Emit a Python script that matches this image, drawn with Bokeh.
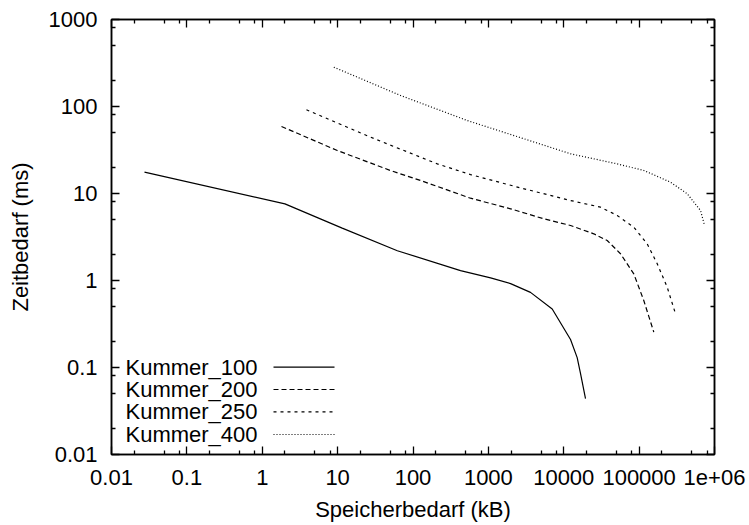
from bokeh.plotting import figure
from bokeh.models import FixedTicker, LogAxis, Label, Arrow, CustomJSTickFormatter, Range1d
from bokeh.embed import file_html
from bokeh.resources import INLINE

# ---- data ----
x_ticks = [0.01, 0.1, 1.0, 10.0, 100.0, 1000.0, 10000.0, 100000.0, 1000000.0]
x_tick_labels = ["0.01", "0.1", "1", "10", "100", "1000", "10000", "100000", "1e+06"]
y_ticks = [0.01, 0.1, 1.0, 10.0, 100.0, 1000.0]
y_tick_labels = ["0.01", "0.1", "1", "10", "100", "1000"]

series_names = ["Kummer_100", "Kummer_200", "Kummer_250", "Kummer_400"]

k100_x = [0.0274, 2.0, 11.5, 62, 427, 1070, 1970, 3620, 7030, 12300, 15070, 16700, 19440]
k100_y = [17.6, 7.6, 4.0, 2.2, 1.3, 1.07, 0.92, 0.73, 0.47, 0.21, 0.13, 0.085, 0.044]

k200_x = [1.8, 9.9, 50, 126, 579, 1970, 5435, 12300, 25050, 37700, 56600, 85000, 115300, 156600]
k200_y = [58.9, 31.2, 18.4, 14.1, 8.83, 6.67, 5.12, 4.29, 3.44, 2.88, 2.03, 1.19, 0.589, 0.255]

k250_x = [3.86, 27.3, 210, 579, 2670, 12300, 30750, 51200, 85000, 128000, 173800, 235700, 304000]
k250_y = [91.6, 44.4, 21.9, 16.5, 11.6, 8.31, 6.96, 5.59, 4.10, 2.64, 1.56, 0.838, 0.414]

k400_x = [8.9, 68.2, 524, 3275, 12300, 51200, 115300, 260600, 434500, 651800, 736600]
k400_y = [283, 134, 69, 41.4, 28.6, 21.9, 18.4, 13.5, 9.93, 6.38, 4.34]

series_x = [k100_x, k200_x, k250_x, k400_x]
series_y = [k100_y, k200_y, k250_y, k400_y]

# ---- style ----
FONT = "Liberation Sans"
FS = "22px"
dashes = ["solid", "5 3", "3 4", "1 2"]

x_minor = [m * d for d in x_ticks[:-1] for m in (2, 5, 8)]
y_minor = [m * d for d in y_ticks[:-1] for m in (2, 5, 8)]

p = figure(
    x_axis_type="log", y_axis_type="log",
    x_range=Range1d(x_ticks[0], x_ticks[-1]),
    y_range=Range1d(y_ticks[0], y_ticks[-1]),
    frame_width=603, frame_height=435,
    min_border_left=111, min_border_right=35,
    min_border_top=19, min_border_bottom=70,
    output_backend="svg", toolbar_location=None,
    x_axis_label="Speicherbedarf (kB)", y_axis_label="Zeitbedarf (ms)",
)
p.xgrid.visible = False
p.ygrid.visible = False
p.outline_line_color = "black"
p.outline_line_width = 1.5
p.background_fill_color = "white"
p.border_fill_color = "white"


def style_axis(ax, ticks, minor, labels=None):
    ax.ticker = FixedTicker(ticks=ticks, minor_ticks=minor)
    ax.axis_line_color = "black"
    ax.axis_line_width = 1.5
    ax.major_tick_in = 8
    ax.major_tick_out = 0
    ax.minor_tick_in = 4
    ax.minor_tick_out = 0
    ax.major_tick_line_width = 1.3
    ax.minor_tick_line_width = 1.3
    ax.major_tick_line_color = "black"
    ax.minor_tick_line_color = "black"
    ax.major_label_text_font = FONT
    ax.major_label_text_font_size = FS
    ax.major_label_text_color = "black"
    ax.axis_label_text_font = FONT
    ax.axis_label_text_font_size = FS
    ax.axis_label_text_font_style = "normal"
    ax.axis_label_text_color = "black"
    if labels is not None:
        ax.major_label_overrides = {t: l for t, l in zip(ticks, labels)}
    else:
        ax.formatter = CustomJSTickFormatter(code="return ''")
        ax.major_label_text_font_size = "1px"
        ax.major_label_standoff = 0


xa = p.xaxis[0]
ya = p.yaxis[0]
style_axis(xa, x_ticks, x_minor, x_tick_labels)
style_axis(ya, y_ticks, y_minor, y_tick_labels)
xa.major_label_standoff = 15
xa.axis_label_standoff = 9
ya.major_label_standoff = 14
ya.axis_label_standoff = 13

top = LogAxis()
right = LogAxis()
style_axis(top, x_ticks, x_minor)
style_axis(right, y_ticks, y_minor)
p.add_layout(top, "above")
p.add_layout(right, "right")

for xs, ys, d in zip(series_x, series_y, dashes):
    p.line(xs, ys, line_color="black", line_width=1.2, line_dash=d)

# key (gnuplot style: text then sample)
row_y = [87.3, 65.0, 42.7, 20.0]
for name, yy, d in zip(series_names, row_y, dashes):
    p.add_layout(Label(x=14, y=yy, x_units="screen", y_units="screen", text=name,
                       text_font=FONT, text_font_size=FS, text_baseline="middle",
                       text_color="black"))
    p.add_layout(Arrow(x_start=162, y_start=yy, x_end=223, y_end=yy,
                       start_units="screen", end_units="screen", end=None,
                       line_color="black", line_width=1.2, line_dash=d))

open("out.html", "w").write(file_html(p, INLINE))
